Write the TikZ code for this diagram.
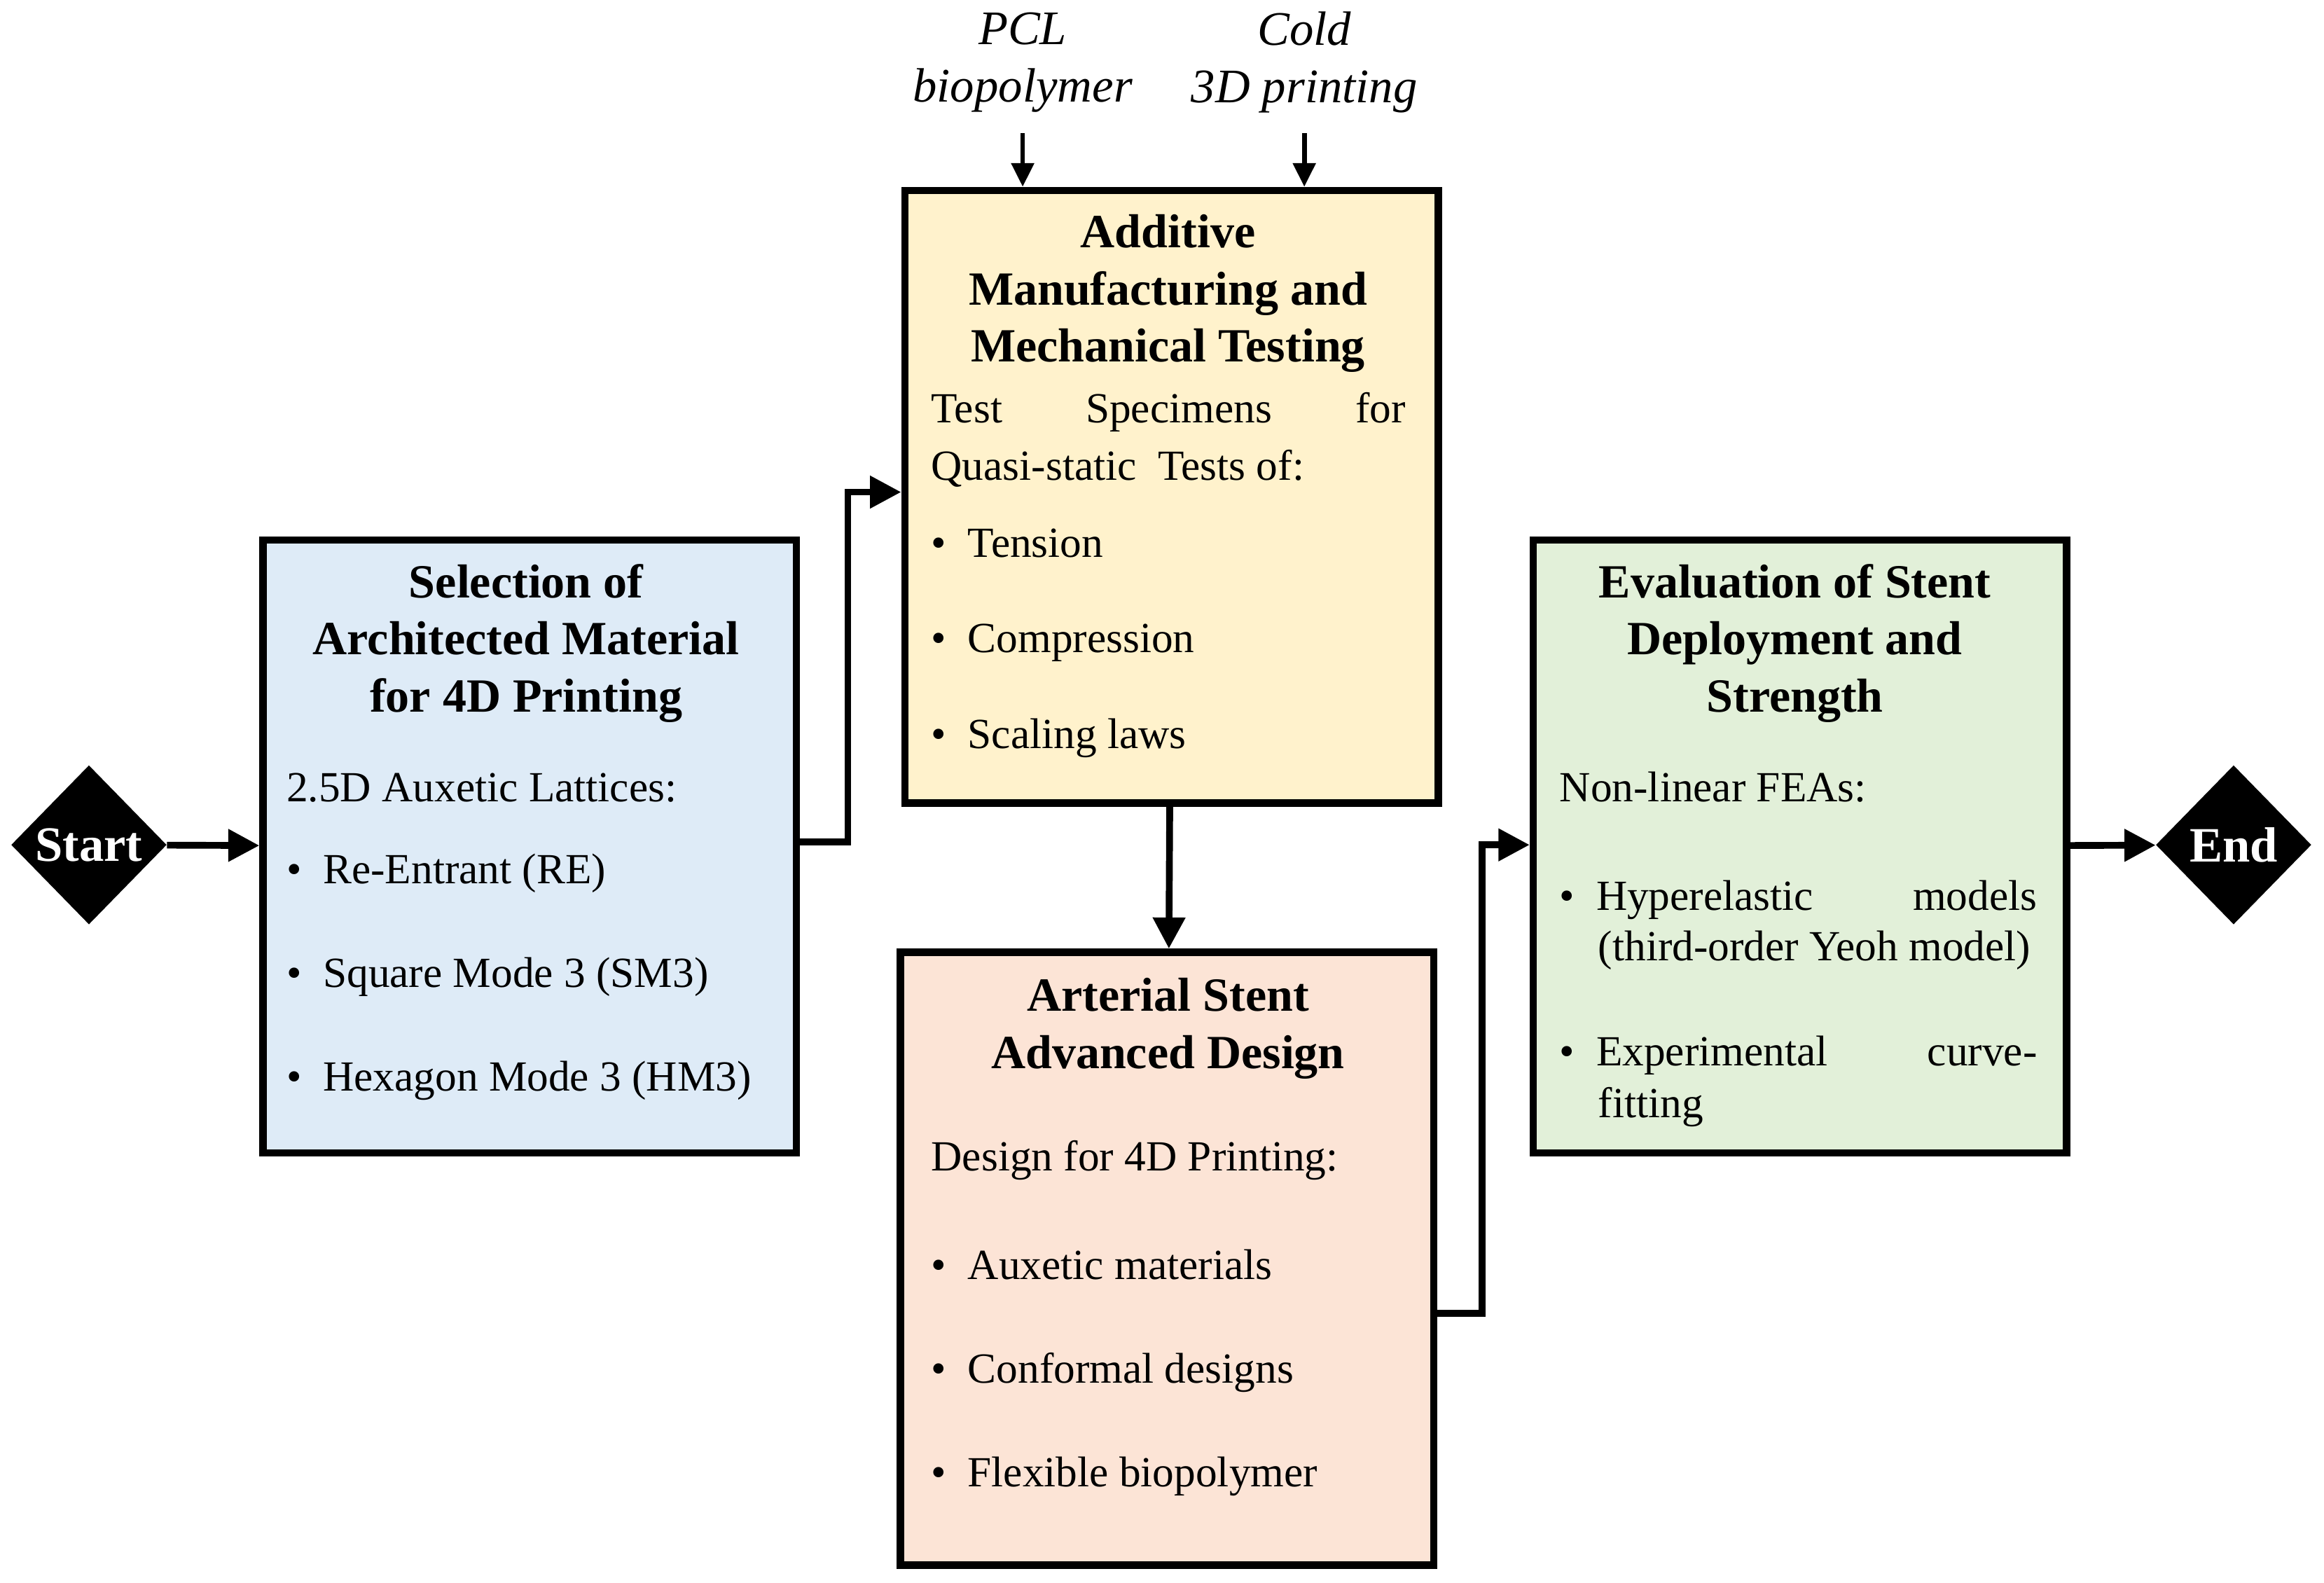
\documentclass[tikz,border=0pt]{standalone}
\usepackage{fontspec}
\setmainfont{Liberation Serif}
\usetikzlibrary{shapes.geometric,arrows.meta}
\definecolor{blueFill}{RGB}{222,235,247}
\definecolor{yellowFill}{RGB}{255,242,204}
\definecolor{redFill}{RGB}{252,228,214}
\definecolor{greenFill}{RGB}{226,240,217}
\tikzset{
  block/.style={rectangle,draw,line width=2.8pt,inner sep=0pt,minimum width=7.2cm,minimum height=8.27cm,anchor=north west},
  term/.style={diamond,fill=black,text=white,font=\fontsize{19}{22}\selectfont\bfseries,inner sep=0pt,minimum width=2.1cm,minimum height=2.15cm,aspect=1},
  ttl/.style={align=center,font=\fontsize{18.3}{22}\selectfont\bfseries,inner sep=0pt},
  feedlbl/.style={font=\fontsize{18.5}{22}\selectfont\itshape,align=center,inner sep=0pt},
  txt/.style={anchor=base west,inner sep=0pt},
  flow/.style={-{Triangle[length=0.42cm,width=0.42cm]},line width=2.6pt},
  feed/.style={-{Triangle[length=0.32cm,width=0.3cm]},line width=1.8pt},
}
\newcommand{\bul}{\textbullet\hspace{0.5em}}
\begin{document}
\fontsize{16.5}{22}\selectfont
\begin{tikzpicture}[x=0.02cm,y=-0.02cm]
                        \useasboundingbox (0,0) rectangle (1568,1068);
                        % Blocks
                        \node [term] (start) at (60,570) {Start};
                        \node [block,fill=blueFill] (sel) at (175,362) {};
                        \node [block,fill=yellowFill] (am) at (608,126) {};
                        \node [block,fill=redFill] (stent) at (605,640) {};
                        \node [block,fill=greenFill] (eval) at (1032,362) {};
                        \node [term] (end) at (1507,570) {End};
                        \node [feedlbl] (pcl) at (690,42) {PCL\\biopolymer};
                        \node [feedlbl] (cold) at (880,42) {Cold\\3D printing};
                        \coordinate (pclin) at (690,126);
                        \coordinate (coldin) at (880,126);

                        % Texts
                        \node [ttl] (selT) at (355,434) {Selection of\\Architected Material\\for 4D Printing};
                        \node [txt] (selA) at (193,541) {2.5D Auxetic Lattices:};
                        \node [txt] (selB) at (193,596) {\bul Re-Entrant (RE)};
                        \node [txt] (selC) at (193,666) {\bul Square Mode 3 (SM3)};
                        \node [txt] (selD) at (193,736) {\bul Hexagon Mode 3 (HM3)};

                        \node [ttl] (amT) at (788,198) {Additive\\Manufacturing and\\Mechanical Testing};
                        \node [txt] (amA) at (628,285) {\makebox[6.4cm][s]{Test\hfill Specimens\hfill for}};
                        \node [txt] (amB) at (628,324) {Quasi-static\ \ Tests of:};
                        \node [txt] (amC) at (628,376) {\bul Tension};
                        \node [txt] (amD) at (628,440) {\bul Compression};
                        \node [txt] (amE) at (628,505) {\bul Scaling laws};

                        \node [ttl] (stentT) at (788,694) {Arterial Stent\\Advanced Design};
                        \node [txt] (stentA) at (628,790) {Design for 4D Printing:};
                        \node [txt] (stentB) at (628,863) {\bul Auxetic materials};
                        \node [txt] (stentC) at (628,933) {\bul Conformal designs};
                        \node [txt] (stentD) at (628,1003) {\bul Flexible biopolymer};

                        \node [ttl] (evalT) at (1211,434) {Evaluation of Stent\\Deployment and\\Strength};
                        \node [txt] (evalA) at (1052,541) {Non-linear FEAs:};
                        \node [txt] (evalB) at (1052,614) {\bul\makebox[5.95cm][s]{Hyperelastic\hfill models}};
                        \node [txt] (evalC) at (1078,648) {(third-order Yeoh model)};
                        \node [txt] (evalD) at (1052,719) {\bul\makebox[5.95cm][s]{Experimental\hfill curve-}};
                        \node [txt] (evalE) at (1078,754) {fitting};

                        % Connections
                        \draw [flow] (start) -- (sel);
                        \draw [flow] (sel.east |- 0,568) -| (572,332) -- (am.west |- 0,332);
                        \draw [flow] (am) -- (stent);
                        \draw [flow] (stent.east |- 0,886) -| (1000,570) -- (eval.west |- 0,570);
                        \draw [flow] (eval) -- (end);
                        \draw [feed] (pcl.south |- 0,90) -- (pclin);
                        \draw [feed] (cold.south |- 0,90) -- (coldin);
                    \end{tikzpicture}
\end{document}
